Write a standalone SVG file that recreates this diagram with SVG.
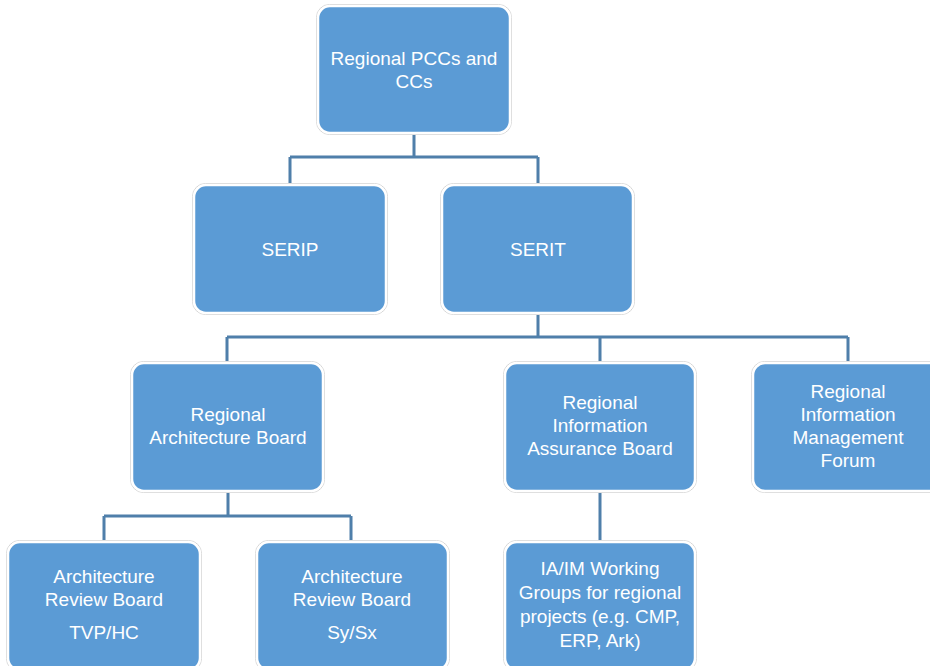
<svg xmlns="http://www.w3.org/2000/svg" width="930" height="666" viewBox="0 0 930 666">
<style>
.halo{fill:none;stroke:#d4d4d4;stroke-width:1}
.box{fill:#5B9BD5;stroke:#ffffff;stroke-width:2.5}
.lbl{font-family:"Liberation Sans",Arial,sans-serif;font-size:19px;fill:#ffffff;text-anchor:middle}
.conn{fill:none;stroke:#4F7FAA;stroke-width:3}
</style>
<rect width="930" height="666" fill="#ffffff"/>
<g id="connectors">
<path class="conn" d="M414 133V157M290 157H538M290 157V185M538 157V185"/>
<path class="conn" d="M538 313V337M227 337H848M227 337V363M600 337V363M848 337V363"/>
<path class="conn" d="M228 491V516M104 516H351M104 516V542M351 516V542"/>
<path class="conn" d="M600 491V542"/>
</g>
<g id="n_pcc">
<rect class="halo" x="316.5" y="4.5" width="195" height="130" rx="13"/>
<rect class="box" x="318" y="6" width="192" height="127" rx="12"/>
<text class="lbl" x="414" y="65">Regional PCCs and</text>
<text class="lbl" x="414" y="88">CCs</text>
</g>
<g id="n_serip">
<rect class="halo" x="192.5" y="183.5" width="195" height="131" rx="13"/>
<rect class="box" x="194" y="185" width="192" height="128" rx="12"/>
<text class="lbl" x="290" y="256">SERIP</text>
</g>
<g id="n_serit">
<rect class="halo" x="440.5" y="183.5" width="194" height="131" rx="13"/>
<rect class="box" x="442" y="185" width="191" height="128" rx="12"/>
<text class="lbl" x="538" y="256">SERIT</text>
</g>
<g id="n_rab">
<rect class="halo" x="130.5" y="361.5" width="194" height="131" rx="13"/>
<rect class="box" x="132" y="363" width="191" height="128" rx="12"/>
<text class="lbl" x="228" y="421">Regional</text>
<text class="lbl" x="228" y="444">Architecture Board</text>
</g>
<g id="n_riab">
<rect class="halo" x="503.5" y="361.5" width="193" height="131" rx="13"/>
<rect class="box" x="505" y="363" width="190" height="128" rx="12"/>
<text class="lbl" x="600" y="409">Regional</text>
<text class="lbl" x="600" y="432">Information</text>
<text class="lbl" x="600" y="455">Assurance Board</text>
</g>
<g id="n_rimf">
<rect class="halo" x="751.5" y="361.5" width="193" height="131" rx="13"/>
<rect class="box" x="753" y="363" width="190" height="128" rx="12"/>
<text class="lbl" x="848" y="398">Regional</text>
<text class="lbl" x="848" y="421">Information</text>
<text class="lbl" x="848" y="444">Management</text>
<text class="lbl" x="848" y="467">Forum</text>
</g>
<g id="n_arb1">
<rect class="halo" x="6.5" y="540.5" width="195" height="131" rx="13"/>
<rect class="box" x="8" y="542" width="192" height="128" rx="12"/>
<text class="lbl" x="104" y="583">Architecture</text>
<text class="lbl" x="104" y="606">Review Board</text>
<text class="lbl" x="104" y="639">TVP/HC</text>
</g>
<g id="n_arb2">
<rect class="halo" x="255.5" y="540.5" width="194" height="131" rx="13"/>
<rect class="box" x="257" y="542" width="191" height="128" rx="12"/>
<text class="lbl" x="352" y="583">Architecture</text>
<text class="lbl" x="352" y="606">Review Board</text>
<text class="lbl" x="352" y="639">Sy/Sx</text>
</g>
<g id="n_iaim">
<rect class="halo" x="503.5" y="540.5" width="193" height="131" rx="13"/>
<rect class="box" x="505" y="542" width="190" height="128" rx="12"/>
<text class="lbl" x="600" y="575">IA/IM Working</text>
<text class="lbl" x="600" y="599">Groups for regional</text>
<text class="lbl" x="600" y="623">projects (e.g. CMP,</text>
<text class="lbl" x="600" y="647">ERP, Ark)</text>
</g>
</svg>
